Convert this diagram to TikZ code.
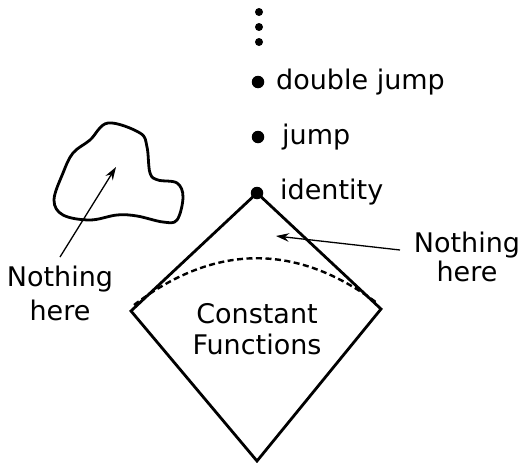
\documentclass[tikz,border=0pt]{standalone}
\usepackage{fontspec}
\setmainfont{DejaVu Sans}
\usetikzlibrary{arrows.meta}
\begin{document}
\begin{tikzpicture}[x=1pt,y=-1pt,
  bigdot/.style={circle,fill=black,inner sep=0pt,minimum size=12.5pt},
  smalldot/.style={circle,fill=black,inner sep=0pt,minimum size=8pt},
  lbl/.style={anchor=base west,inner sep=0pt,font=\fontsize{27}{31}\selectfont},
  thick line/.style={line width=2.8pt,line join=miter},
  arr/.style={line width=1.3pt,-{Stealth[length=13pt,width=8.5pt]}}]
\useasboundingbox (0,0) rectangle (522,463);
% vertical dots
\node[smalldot] (d1) at (259,12) {};
\node[smalldot] (d2) at (259,27) {};
\node[smalldot] (d3) at (259,42) {};
% elements
\node[bigdot] (dj) at (258,82) {};
\node[bigdot] (jp) at (258,137) {};
\node[bigdot] (id) at (257,193) {};
\node[lbl] (tdj) at (276,89) {double jump};
\node[lbl] (tjp) at (282,144) {jump};
\node[lbl] (tid) at (280,199) {identity};
% diamond
\coordinate (L) at (131,311);
\coordinate (B) at (257,461);
\coordinate (R) at (381,309);
\draw[thick line] (id.center) -- (L) -- (B) -- (R) -- cycle;
% dashed arc
\draw[line width=2.4pt,dash pattern=on 6pt off 3.5pt] (134,305) .. controls (215,243) and (297,243) .. (377,303);
% constant functions
\node[align=center,inner sep=0pt,font=\fontsize{27}{31}\selectfont] (cf) at (257,329) {Constant\\Functions};
% blob
\draw[thick line,line join=round] plot[smooth cycle,tension=0.6] coordinates {
 (108,123) (140,133) (147,147) (150,173) (158,180) (177,183) (183,197) (177,220)
 (163,222) (137,216) (117,215) (90,220) (63,215) (54,200) (63,173) (73,153) (90,140)};
% Nothing here labels
\node[align=center,inner sep=0pt,font=\fontsize{27}{34}\selectfont] (nl) at (60,293) {Nothing\\here};
\node[align=center,inner sep=0pt,font=\fontsize{27}{29}\selectfont] (nr) at (467,257) {Nothing\\here};
\coordinate (tailL) at (60,257);
\coordinate (tipL) at (116,167);
\coordinate (tailR) at (400,250);
\coordinate (tipR) at (276,236);
\draw[arr] (tailL) -- (tipL);
\draw[arr] (tailR) -- (tipR);
\end{tikzpicture}
\end{document}
